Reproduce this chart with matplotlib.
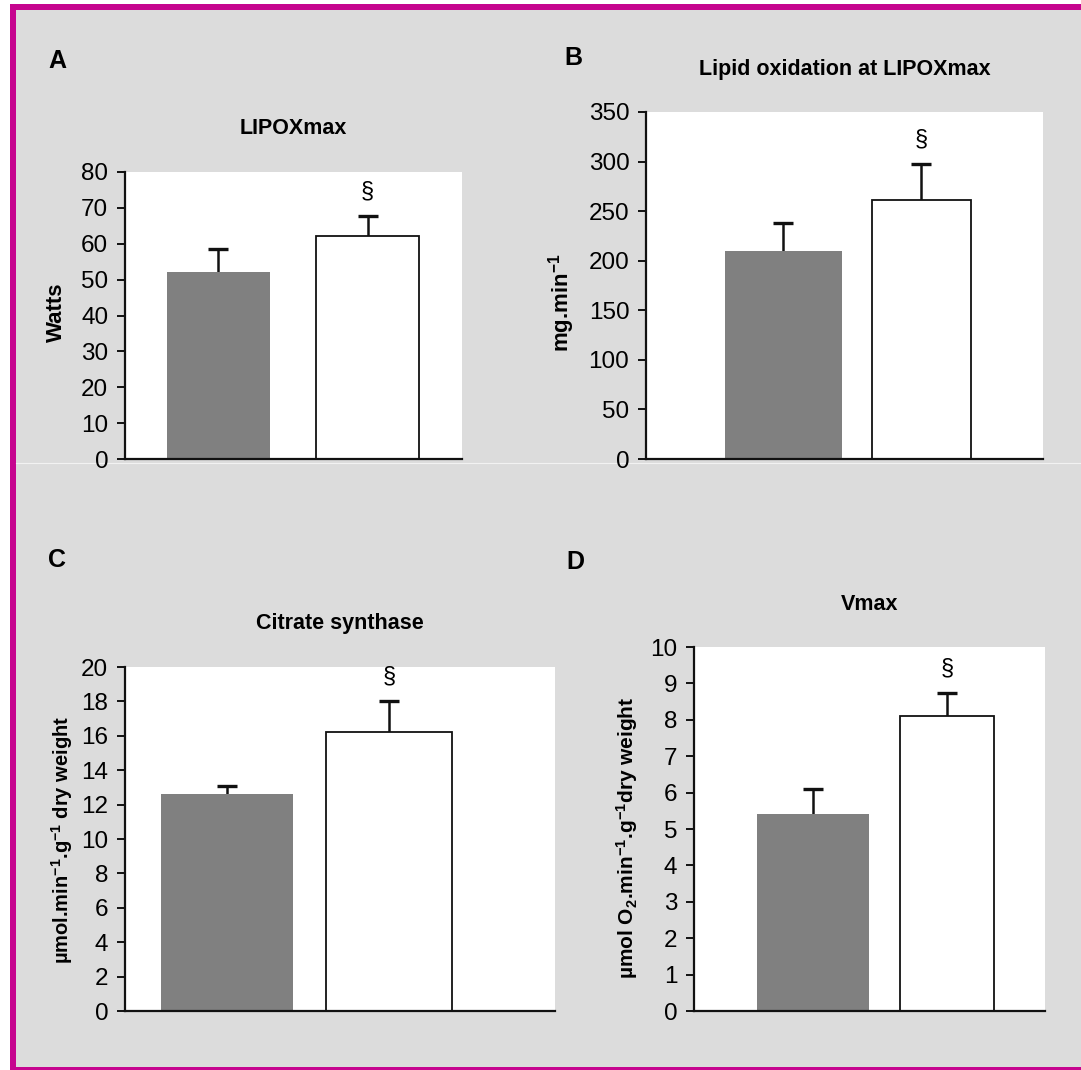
import matplotlib
matplotlib.use('Agg')
import matplotlib.pyplot as plt
from matplotlib.patches import Rectangle
from matplotlib.lines import Line2D

plt.rcParams['font.family'] = ['Liberation Sans', 'DejaVu Sans']
plt.rcParams['mathtext.default'] = 'regular'

# data (trained / untrained)
letters = ['A', 'B', 'C', 'D']
titles = ['LIPOXmax', 'Lipid oxidation at LIPOXmax', 'Citrate synthase', 'Vmax']
ylabels = ['Watts',
           'mg.min$^{-1}$',
           '\u00b5mol.min$^{-1}$.g$^{-1}$ dry weight',
           '\u00b5mol O$_2$.min$^{-1}$.g$^{-1}$dry weight']

lipox_mean = [52.2, 62.2]
lipox_sem = [6.3, 5.5]
lipid_mean = [209.5, 261.0]
lipid_sem = [28.5, 36.5]
cs_mean = [12.6, 16.2]
cs_sem = [0.5, 1.8]
vmax_mean = [5.4, 8.1]
vmax_sem = [0.7, 0.63]

means = [lipox_mean, lipid_mean, cs_mean, vmax_mean]
sems = [lipox_sem, lipid_sem, cs_sem, vmax_sem]
ymax = [80, 350, 20, 10]
ystep = [10, 50, 2, 1]
signif = ['\u00a7', '\u00a7', '\u00a7', '\u00a7']

W, H = 1081, 1070
fig = plt.figure(figsize=(W / 100, H / 100), dpi=100, facecolor='white')

# page frame: magenta border with grey panel
fig.patches.append(Rectangle((10 / W, 0), 1, 1 - 4 / H, transform=fig.transFigure,
                             facecolor='#c6058f', edgecolor='none', zorder=-10))
fig.patches.append(Rectangle((16 / W, 3 / H), 1, 1 - 13 / H, transform=fig.transFigure,
                             facecolor='#dcdcdc', edgecolor='none', zorder=-9))
fig.lines.append(Line2D([16 / W, 1], [1 - 463 / H, 1 - 463 / H], transform=fig.transFigure,
                        color='#f2f2f2', lw=0.8, zorder=-8))

# axes boxes in pixels: left, top, right, bottom
boxes = [(125, 172, 462, 459), (646, 112, 1043, 459),
         (125, 667, 555, 1011), (694, 647, 1045, 1011)]
xlims = [(-0.625, 1.632), (-0.997, 1.883), (-0.629, 2.025), (-0.888, 1.731)]
widths = [[0.69, 0.69], [0.85, 0.72], [0.815, 0.778], [0.836, 0.70]]
letter_pos = [(57, 61), (573, 58), (57, 560), (575, 562)]
ylab_pos = [(-0.172, 0.51), (-0.174, 0.45), (-0.116, 0.497), (-0.154, 0.475)]
ylab_size = [16, 16, 14.5, 15]

for i in range(4):
    l, t, r, b = boxes[i]
    ax = fig.add_axes([l / W, 1 - b / H, (r - l) / W, (b - t) / H])
    ax.set_facecolor('white')
    x = [0, 1]
    ax.bar(x, means[i], width=widths[i], color=['#808080', 'white'],
           edgecolor=['#808080', '#111111'], linewidth=[0, 1.3], zorder=2)
    eb = ax.errorbar(x, means[i], yerr=[[0, 0], sems[i]], fmt='none', ecolor='#111111',
                     elinewidth=1.8, capsize=7.5, capthick=2.4, zorder=1)
    # only the upper caps are shown
    for cap in eb[1]:
        if list(cap.get_ydata()) == list(means[i]):
            cap.set_visible(False)
    ax.annotate(signif[i], (1, means[i][1] + sems[i][1]), xytext=(0, 18),
                textcoords='offset points', ha='center', va='center', fontsize=17)
    ax.set_xlim(*xlims[i])
    ax.set_ylim(0, ymax[i])
    ax.set_yticks(range(0, ymax[i] + 1, ystep[i]))
    ax.set_xticks([])
    for s in ['top', 'right']:
        ax.spines[s].set_visible(False)
    for s in ['left', 'bottom']:
        ax.spines[s].set_linewidth(1.6)
        ax.spines[s].set_color('#111111')
    ax.tick_params(axis='y', direction='out', length=6, width=1.4, pad=6,
                   labelsize=17.5, color='#111111')
    ax.set_title(titles[i], fontweight='bold', fontsize=15.5, pad=27)
    ax.set_ylabel(ylabels[i], fontweight='bold', fontsize=ylab_size[i])
    ax.yaxis.set_label_coords(*ylab_pos[i])
    lx, ly = letter_pos[i]
    fig.text(lx / W, 1 - ly / H, letters[i], fontweight='bold',
             fontsize=18, ha='center', va='center')

fig.savefig('out.png', dpi=100, facecolor=fig.get_facecolor())
